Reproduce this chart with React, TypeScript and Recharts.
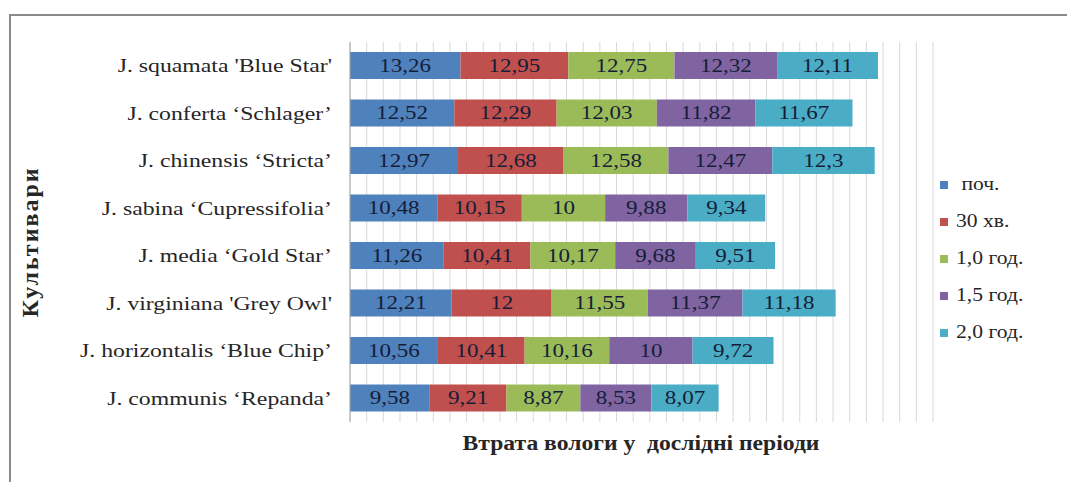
import React from "react";
import {
  BarChart,
  Bar,
  XAxis,
  YAxis,
  CartesianGrid,
  LabelList,
} from "recharts";

const cultivars = [
  "J. squamata 'Blue Star'",
  "J. conferta \u2018Schlager\u2019",
  "J. chinensis \u2018Stricta\u2019",
  "J. sabina \u2018Cupressifolia\u2019",
  "J. media \u2018Gold Star\u2019",
  "J. virginiana 'Grey Owl'",
  "J. horizontalis \u2018Blue Chip\u2019",
  "J. communis \u2018Repanda\u2019",
];

const start = [13.26, 12.52, 12.97, 10.48, 11.26, 12.21, 10.56, 9.58];
const min30 = [12.95, 12.29, 12.68, 10.15, 10.41, 12, 10.41, 9.21];
const hour1 = [12.75, 12.03, 12.58, 10, 10.17, 11.55, 10.16, 8.87];
const hour15 = [12.32, 11.82, 12.47, 9.88, 9.68, 11.37, 10, 8.53];
const hour2 = [12.11, 11.67, 12.3, 9.34, 9.51, 11.18, 9.72, 8.07];

const xTicks = Array.from({ length: 36 }, (_, i) => i * 2);

const series = [
  { key: "start", name: " поч.", color: "#4F81BD", values: start },
  { key: "min30", name: "30 хв.", color: "#C0504D", values: min30 },
  { key: "hour1", name: "1,0 год.", color: "#9BBB59", values: hour1 },
  { key: "hour15", name: "1,5 год.", color: "#8064A2", values: hour15 },
  { key: "hour2", name: "2,0 год.", color: "#4BACC6", values: hour2 },
];

const data = cultivars.map((name, i) => {
  const row: Record<string, string | number> = { name };
  series.forEach((s) => {
    row[s.key] = s.values[i];
  });
  return row;
});

const serif = "'Liberation Serif', 'DejaVu Serif', serif";

const fmt = (v: any) => String(v).replace(".", ",");

// the original image is stretched sideways, so text is widened a bit
function CategoryTick(props: any) {
  const { x, y, payload } = props;
  return (
    <g transform={`translate(${x},${y}) scale(1.32,1)`}>
      <text
        textAnchor="end"
        dy="0.35em"
        fontFamily={serif}
        fontSize={18}
        fill="#262626"
      >
        {payload.value}
      </text>
    </g>
  );
}

function ValueLabel(props: any) {
  const { x, y, width, height, value } = props;
  const cx = x + width / 2;
  const cy = y + height / 2;
  return (
    <g transform={`translate(${cx},${cy}) scale(1.28,1)`}>
      <text
        textAnchor="middle"
        dy="0.35em"
        fontFamily={serif}
        fontSize={18}
        fill="#151d38"
      >
        {fmt(value)}
      </text>
    </g>
  );
}

function LegendBox() {
  return (
    <div style={{ fontFamily: serif, fontSize: 18, color: "#262626" }}>
      {series.map((s) => (
        <div
          key={s.key}
          style={{ display: "flex", alignItems: "center", height: 37 }}
        >
          <span
            style={{
              display: "inline-block",
              width: 8,
              height: 8,
              background: s.color,
              marginRight: 8,
            }}
          />
          <span
            style={{
              whiteSpace: "pre",
              display: "inline-block",
              transform: "scaleX(1.2)",
              transformOrigin: "left center",
            }}
          >
            {s.name}
          </span>
        </div>
      ))}
    </div>
  );
}

export default function App() {
  return (
    <div
      style={{
        position: "absolute",
        left: 0,
        top: 0,
        width: 1067,
        height: 482,
        background: "#fff",
        overflow: "hidden",
      }}
    >
      <div
        style={{
          position: "absolute",
          left: 9,
          top: 14,
          width: 1070,
          height: 480,
          border: "2px solid #8a8a8a",
          boxSizing: "border-box",
        }}
      />
      <BarChart
        width={1067}
        height={482}
        data={data}
        layout="vertical"
        margin={{ top: 42, right: 134, bottom: 59, left: 10 }}
        style={{ position: "absolute", left: 0, top: 0 }}
      >
        <CartesianGrid horizontal={false} stroke="#d9d9d9" />
        <XAxis
          type="number"
          domain={[0, 70]}
          ticks={xTicks}
          interval={0}
          tick={() => <g />}
          tickLine={false}
          axisLine={false}
          height={1}
        />
        <YAxis
          type="category"
          dataKey="name"
          width={340}
          tickLine={false}
          tickSize={0}
          tickMargin={18}
          axisLine={{ stroke: "#a6a6a6" }}
          tick={<CategoryTick />}
        />
        {series.map((s) => (
          <Bar
            key={s.key}
            dataKey={s.key}
            name={s.name}
            stackId="a"
            fill={s.color}
            barSize={27}
            isAnimationActive={false}
          >
            <LabelList dataKey={s.key} content={<ValueLabel />} />
          </Bar>
        ))}
      </BarChart>
      <div style={{ position: "absolute", left: 940, top: 166, width: 120 }}>
        <LegendBox />
      </div>
      <div
        style={{
          position: "absolute",
          left: 641,
          top: 443,
          transform: "translate(-50%, -50%) scaleX(1.18)",
          fontFamily: serif,
          fontWeight: "bold",
          fontSize: 20,
          color: "#262626",
          whiteSpace: "pre",
        }}
      >
        {"Втрата вологи у  дослідні періоди"}
      </div>
      <div
        style={{
          position: "absolute",
          left: 30,
          top: 242,
          transform: "translate(-50%, -50%) rotate(-90deg)",
          fontFamily: serif,
          fontWeight: "bold",
          fontSize: 24,
          letterSpacing: 2,
          color: "#262626",
          whiteSpace: "nowrap",
        }}
      >
        Культивари
      </div>
    </div>
  );
}
